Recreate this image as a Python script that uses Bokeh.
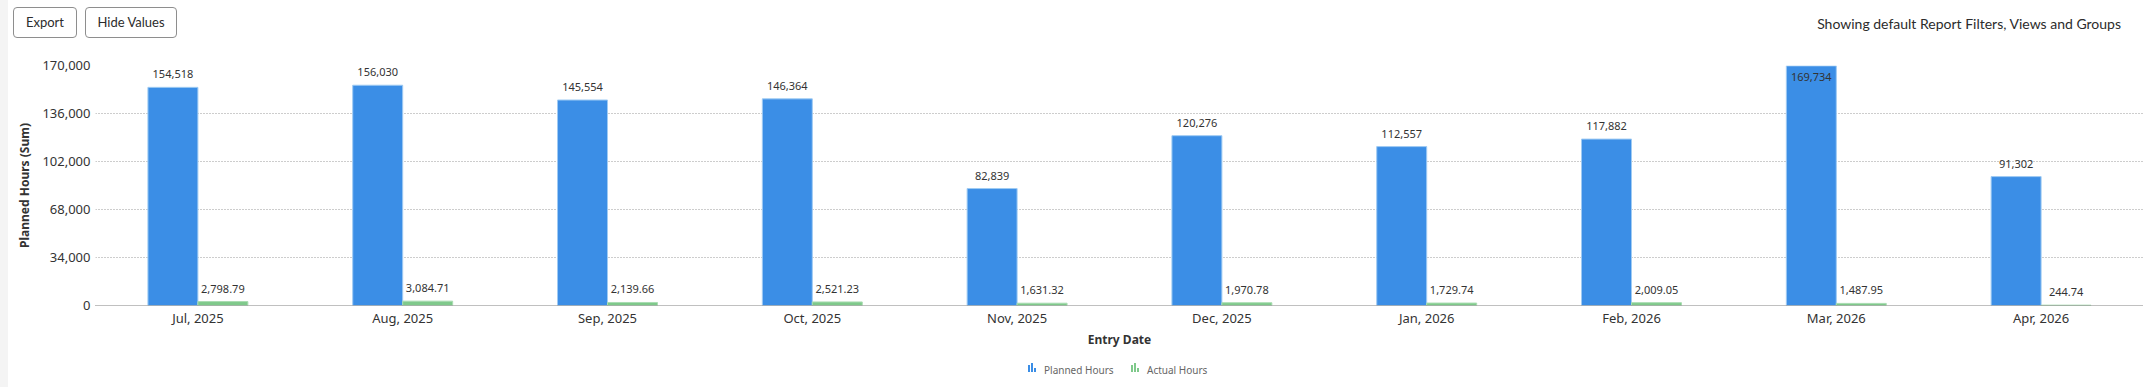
from bokeh.plotting import figure
from bokeh.layouts import column, row
from bokeh.models import (ColumnDataSource, FactorRange, Range1d, FixedTicker,
                          NumeralTickFormatter, LabelSet, Div)
from bokeh.transform import dodge
from bokeh.core.properties import value
from bokeh.embed import file_html
from bokeh.resources import INLINE

# ---------------- data ----------------
months = ["Jul, 2025", "Aug, 2025", "Sep, 2025", "Oct, 2025", "Nov, 2025",
          "Dec, 2025", "Jan, 2026", "Feb, 2026", "Mar, 2026", "Apr, 2026"]
planned_hours = [154518, 156030, 145554, 146364, 82839,
                 120276, 112557, 117882, 169734, 91302]
actual_hours = [2798.79, 3084.71, 2139.66, 2521.23, 1631.32,
                1970.78, 1729.74, 2009.05, 1487.95, 244.74]
y_ticks = [0, 34000, 68000, 102000, 136000, 170000]
series_names = ["Planned Hours", "Actual Hours"]
buttons = ["Export", "Hide Values"]
header_text = "Showing default Report Filters, Views and Groups"

# ---------------- layout / style ----------------
STRIP = 8
W = 2143 - STRIP
TOP_H, FIG_H, LEG_H = 46, 304, 37
TOTAL_H = TOP_H + FIG_H + LEG_H
Y_MAX = y_ticks[-1]
BLUE, BLUE_EDGE = "#3b8ee6", "#9fcbf3"
GREEN, GREEN_EDGE = "#7fc98b", "#a9dcb1"
TXT = "#333333"
BAR_W = 0.244

src = ColumnDataSource(dict(
    month=months,
    planned=planned_hours,
    actual=actual_hours,
    planned_txt=[f"{v:,.0f}" for v in planned_hours],
    actual_txt=[f"{v:,.2f}" for v in actual_hours],
    planned_off=[-15 if v > 0.95 * Y_MAX else 9 for v in planned_hours],
))

p = figure(x_range=FactorRange(*months), y_range=Range1d(0, Y_MAX),
           width=W, height=FIG_H, output_backend="svg", toolbar_location=None,
           min_border_left=95 - STRIP, min_border_right=0, min_border_top=19,
           min_border_bottom=43)
p.outline_line_color = None
p.background_fill_color = "white"
p.border_fill_color = "white"

p.vbar(x=dodge("month", -BAR_W / 2, range=p.x_range), top="planned", width=BAR_W,
       source=src, fill_color=BLUE, line_color=BLUE_EDGE, line_width=1)
p.vbar(x=dodge("month", BAR_W / 2, range=p.x_range), top="actual", width=BAR_W,
       source=src, fill_color=GREEN, line_color=GREEN_EDGE, line_width=1)

# value labels
for xoff, col, txt, off in [(-BAR_W / 2, "planned", "planned_txt", "planned_off"),
                            (BAR_W / 2, "actual", "actual_txt", 9)]:
    p.add_layout(LabelSet(x=dodge("month", xoff, range=p.x_range), y=col, text=txt,
                          y_offset=off, source=src, text_align="center",
                          text_baseline="alphabetic", text_font=value("Noto Sans"),
                          text_font_size="11px", text_color=TXT))

# axes
yax = p.yaxis[0]
yax.ticker = FixedTicker(ticks=y_ticks)
yax.formatter = NumeralTickFormatter(format="0,0")
yax.major_tick_line_color = None
yax.minor_tick_line_color = None
yax.major_tick_out = 0
yax.major_tick_in = 0
yax.minor_tick_out = 0
yax.axis_line_color = None
yax.major_label_text_font = "Noto Sans"
yax.major_label_text_font_size = "13px"
yax.major_label_text_color = TXT
yax.major_label_standoff = 5
yax.axis_label = "Planned Hours (Sum)"
yax.axis_label_text_font = "Noto Sans"
yax.axis_label_text_font_style = "bold"
yax.axis_label_text_font_size = "12px"
yax.axis_label_text_color = TXT
yax.axis_label_standoff = 6

xax = p.xaxis[0]
xax.major_tick_line_color = None
xax.minor_tick_line_color = None
xax.major_tick_out = 0
xax.major_tick_in = 0
xax.minor_tick_out = 0
xax.axis_line_color = "#808080"
xax.axis_line_dash = "1 1"
xax.major_label_text_font = "Noto Sans"
xax.major_label_text_font_size = "13px"
xax.major_label_text_color = TXT
xax.major_label_standoff = 3
xax.axis_label = "Entry Date"
xax.axis_label_text_font = "Noto Sans"
xax.axis_label_text_font_style = "bold"
xax.axis_label_text_font_size = "12px"
xax.axis_label_text_color = TXT
xax.axis_label_standoff = 1

p.xgrid.grid_line_color = None
p.ygrid.ticker = FixedTicker(ticks=y_ticks)
p.ygrid.grid_line_color = "#9a9a9a"
p.ygrid.grid_line_dash = "1 2"
p.ygrid.grid_line_width = 1

# ---------------- header (buttons + info text) ----------------
btn_boxes = [(13 - STRIP, 64), (85 - STRIP, 92)]
btn_html = "".join(
    f'<div style="position:absolute;left:{l}px;top:7px;width:{w}px;height:31px;'
    f'box-sizing:border-box;border:1px solid #8e8e8e;border-radius:4px;'
    f'display:flex;align-items:center;justify-content:center;'
    f'font-family:Lato;font-size:13px;color:#2c2c2c;">{name}</div>'
    for name, (l, w) in zip(buttons, btn_boxes))
hdr_html = (f'<div style="position:absolute;right:22px;top:16px;line-height:16px;'
            f'font-family:Lato;font-size:14px;color:#2c2c2c;white-space:nowrap;">'
            f'{header_text}</div>')
top_div = Div(text=f'<div style="position:relative;width:{W}px;height:{TOP_H}px;">'
                   f'{btn_html}{hdr_html}</div>',
              width=W, height=TOP_H, margin=0)

# ---------------- legend ----------------
def icon(color, left):
    return "".join(
        f'<div style="position:absolute;left:{left + 3 * k}px;top:{22 - h}px;'
        f'width:2px;height:{h}px;background:{color};"></div>'
        for k, h in enumerate([7, 9, 4]))

leg_items = [(series_names[0], BLUE, 1028 - STRIP, 1044 - STRIP),
             (series_names[1], GREEN, 1131 - STRIP, 1147 - STRIP)]
leg_html = "".join(
    icon(c, il) +
    f'<div style="position:absolute;left:{tl}px;top:13px;line-height:14px;'
    f'font-family:\'Noto Sans\';font-size:10px;color:#666666;white-space:nowrap;">{n}</div>'
    for n, c, il, tl in leg_items)
leg_div = Div(text=f'<div style="position:relative;width:{W}px;height:{LEG_H}px;">'
                   f'{leg_html}</div>',
              width=W, height=LEG_H, margin=0)

strip_div = Div(text=f'<div style="width:{STRIP}px;height:{TOTAL_H}px;'
                     f'background:#f4f4f4;"></div>',
                width=STRIP, height=TOTAL_H, margin=0)

layout = row(strip_div, column(top_div, p, leg_div, spacing=0), spacing=0)
open("out.html", "w").write(file_html(layout, INLINE))
